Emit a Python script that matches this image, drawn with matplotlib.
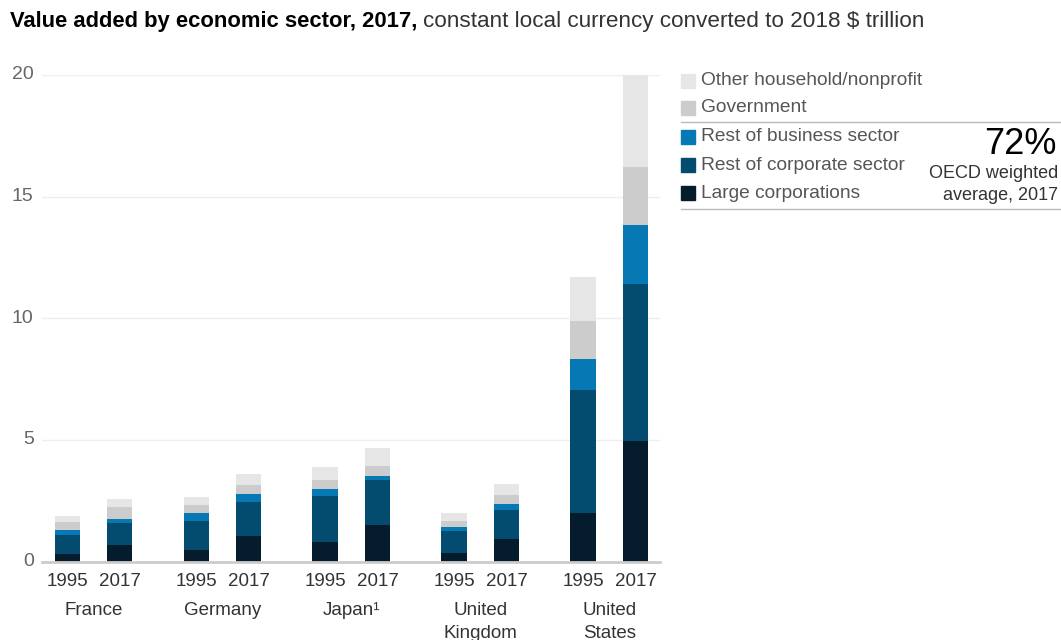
import matplotlib.pyplot as plt
import numpy as np
from matplotlib.patches import Rectangle
from matplotlib.lines import Line2D

plt.rcParams['font.family'] = ['Liberation Sans', 'DejaVu Sans']

# Data (stack tops, $ trillion)
countries = ["France", "Germany", "Japan\u00b9", "United\nKingdom", "United\nStates"]
years = ["1995", "2017"]
# cumulative tops per bar: France95, France17, Germany95, ...
large = [0.32, 0.69, 0.47, 1.06, 0.79, 1.49, 0.35, 0.91, 2.01, 4.97]
corp_top = [1.10, 1.60, 1.67, 2.44, 2.70, 3.37, 1.27, 2.12, 7.04, 11.42]
business_top = [1.30, 1.76, 2.01, 2.77, 2.99, 3.53, 1.43, 2.35, 8.33, 13.82]
gov_top = [1.64, 2.24, 2.33, 3.16, 3.37, 3.93, 1.65, 2.72, 9.90, 16.20]
total = [1.87, 2.58, 2.67, 3.59, 3.88, 4.68, 2.00, 3.19, 11.70, 20.00]

series = ["Large corporations", "Rest of corporate sector", "Rest of business sector",
          "Government", "Other household/nonprofit"]
colors = ["#051c2c", "#034b6f", "#0679b4", "#cccccc", "#e6e6e6"]

tops = np.array([large, corp_top, business_top, gov_top, total])
bottoms = np.vstack([np.zeros(len(large)), tops[:-1]])
heights = tops - bottoms

# positions
group_gap = 1.0
pair_off = 0.41
bar_w = 0.194
xpos = []
for i in range(len(countries)):
    xpos += [i * group_gap, i * group_gap + pair_off]
xpos = np.array(xpos)

fig = plt.figure(figsize=(10.61, 6.4), dpi=100)
ax = fig.add_axes([42 / 1061, 1 - 561.5 / 640, (660 - 42) / 1061, (561.5 - 75) / 640])

for k in range(len(series)):
    ax.bar(xpos, heights[k], bottom=bottoms[k], width=bar_w, color=colors[k],
           linewidth=0, zorder=3)

ax.set_xlim(-0.194, 4.597)
ax.set_ylim(0, 20)
ax.set_yticks([0, 5, 10, 15, 20])
ax.yaxis.grid(True, color="#eeeeee", linewidth=1, zorder=0)
for s in ["top", "right", "left"]:
    ax.spines[s].set_visible(False)
ax.spines["bottom"].set_color("#cccccc")
ax.spines["bottom"].set_linewidth(2)
ax.spines["bottom"].set_zorder(4)
ax.tick_params(axis="y", length=0, labelsize=14, labelcolor="#666666", pad=6)
ax.tick_params(axis="x", length=0, labelsize=13.5, labelcolor="#333333", pad=8)
ax.set_xticks(xpos)
ax.set_xticklabels(years * len(countries))
for t in ax.get_yticklabels():
    t.set_verticalalignment("center")

# country labels
for i, c in enumerate(countries):
    ax.text(i * group_gap + pair_off / 2, -1.68, c, ha="center", va="top",
            fontsize=13.5, color="#333333", linespacing=1.4, clip_on=False)

# title
t1 = fig.text(10 / 1061, 1 - 22 / 640, "Value added by economic sector, 2017,",
              fontsize=15.8, fontweight="bold", color="#000000", va="center")
fig.canvas.draw()
bb = t1.get_window_extent()
fig.text((bb.x1 + 6) / 1061, 1 - 22 / 640,
         "constant local currency converted to 2018 $ trillion",
         fontsize=16.2, color="#333333", va="center")

# legend
leg_rows = [80.7, 107.5, 136.5, 165, 193.3]
leg_order = [4, 3, 2, 1, 0]
for y, k in zip(leg_rows, leg_order):
    fig.patches.append(Rectangle((681 / 1061, 1 - (y + 7) / 640), 14 / 1061, 14 / 640,
                                 transform=fig.transFigure, color=colors[k]))
    fig.text(701 / 1061, 1 - y / 640, series[k], fontsize=13.8, color="#555555",
             va="center")
for y in [122, 209]:
    fig.lines.append(Line2D([681 / 1061, 1.0], [1 - y / 640, 1 - y / 640],
                            transform=fig.transFigure, color="#bbbbbb", linewidth=1))

fig.text(1057 / 1061, 1 - 144 / 640, "72%", fontsize=26, color="#000000",
         ha="right", va="center")
fig.text(1058 / 1061, 1 - 173 / 640, "OECD weighted", fontsize=13, color="#333333",
         ha="right", va="center")
fig.text(1058 / 1061, 1 - 195.5 / 640, "average, 2017", fontsize=13, color="#333333",
         ha="right", va="center")

fig.savefig("out.png", dpi=100, facecolor="white")
